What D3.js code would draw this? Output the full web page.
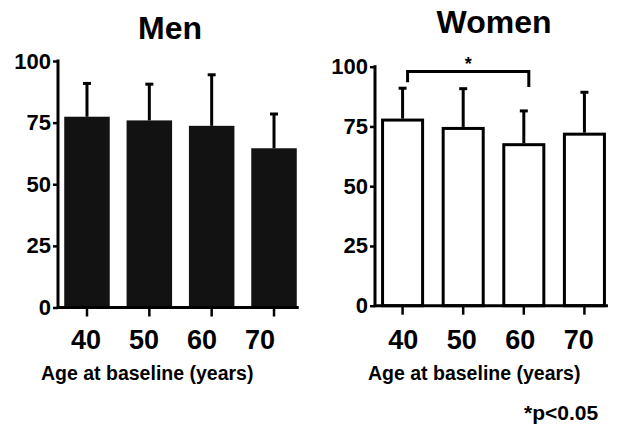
<!DOCTYPE html>
<html><head><meta charset="utf-8">
<script src="https://cdn.jsdelivr.net/npm/d3@7"></script>
<style>
html,body{margin:0;padding:0;background:#fff;}
svg{display:block;}
text{font-family:"Liberation Sans",Arial,sans-serif;font-weight:bold;fill:#000;}
</style></head>
<body>
<svg id="chart" width="627" height="429"></svg>
<script>
const categories = ["40", "50", "60", "70"];
const yTicks = [0, 25, 50, 75, 100];
const menMeans = [77.4, 75.9, 73.7, 64.6];
const menSDs = [13.5, 14.7, 20.7, 13.9];
const womenMeans = [78.3, 74.8, 68.0, 72.4];
const womenSDs = [12.7, 16.0, 13.5, 16.9];
const sigPair = ["40", "60"];
const sigLabel = "*";
const footnote = "*p<0.05";
const xTitle = "Age at baseline (years)";

const svg = d3.select("#chart");

function panel(opt) {
  const g = svg.append("g");
  const x = d3.scaleBand().domain(categories).range(opt.xr).paddingInner(opt.pi).paddingOuter(0.1);
  const y = d3.scaleLinear().domain([0, 100]).range(opt.yr);
  const lx = d3.scaleBand().domain(categories).range(opt.lr);
  const data = categories.map((c, i) => ({c, m: opt.means[i], sd: opt.sds[i]}));
  const axisEnd = x(categories[3]) + x.bandwidth();

  // bars
  g.selectAll("rect.bar").data(data).join("rect")
    .attr("class", "bar")
    .attr("x", d => x(d.c) + (opt.filled ? 0 : 1.5))
    .attr("width", x.bandwidth() - (opt.filled ? 0 : 3))
    .attr("y", d => y(d.m) + (opt.filled ? 0 : 1.5))
    .attr("height", d => y(0) - y(d.m) - (opt.filled ? 0 : 1.5))
    .attr("fill", opt.filled ? "#121212" : "#fff")
    .attr("stroke", opt.filled ? "none" : "#000")
    .attr("stroke-width", 3);

  // error bars (upper)
  const eb = g.selectAll("g.err").data(data).join("g").attr("class", "err");
  eb.append("line")
    .attr("x1", d => x(d.c) + x.bandwidth() / 2).attr("x2", d => x(d.c) + x.bandwidth() / 2)
    .attr("y1", d => y(d.m)).attr("y2", d => y(d.m + d.sd))
    .attr("stroke", "#000").attr("stroke-width", 3);
  eb.append("line")
    .attr("x1", d => x(d.c) + x.bandwidth() / 2 - 4).attr("x2", d => x(d.c) + x.bandwidth() / 2 + 4)
    .attr("y1", d => y(d.m + d.sd)).attr("y2", d => y(d.m + d.sd))
    .attr("stroke", "#000").attr("stroke-width", 3);

  // y axis
  const ya = g.append("g").attr("transform", `translate(${opt.xr[0]},0)`)
    .call(d3.axisLeft(y).tickValues(yTicks).tickSize(5).tickPadding(2).tickFormat(d3.format("d")));
  ya.select(".domain").remove();
  ya.selectAll(".tick line").attr("stroke", "#000").attr("stroke-width", 2.5);
  ya.selectAll(".tick text").style("font-size", "22px").attr("fill", "#000").style("font-family", "'Liberation Sans',Arial,sans-serif");
  g.append("line").attr("x1", opt.xr[0]).attr("x2", opt.xr[0])
    .attr("y1", y(100) - 1.5).attr("y2", y(0) + 1.5).attr("stroke", "#000").attr("stroke-width", 3);

  // x axis
  g.append("line").attr("x1", opt.xr[0]).attr("x2", axisEnd + 2)
    .attr("y1", y(0)).attr("y2", y(0)).attr("stroke", "#000").attr("stroke-width", 3);
  const xa = g.append("g").attr("transform", `translate(0,${y(0)})`)
    .call(d3.axisBottom(x).tickSize(9).tickFormat(""));
  xa.select(".domain").remove();
  xa.selectAll(".tick line").attr("stroke", "#000").attr("stroke-width", 2.5);

  // category labels
  g.selectAll("text.cat").data(categories).join("text")
    .attr("class", "cat")
    .attr("x", d => lx(d) + lx.bandwidth() / 2)
    .attr("y", 349)
    .attr("text-anchor", "middle")
    .style("font-size", "27px")
    .text(d => d);

  // x title
  g.append("text").attr("x", opt.titleX).attr("y", 380)
    .style("font-size", "19.5px").text(xTitle);

  // panel title
  g.append("text").attr("x", opt.headX).attr("y", opt.headY)
    .attr("text-anchor", "middle").style("font-size", "32px").text(opt.head);

  return {g, x, y};
}

panel({head: "Men", headX: 170, headY: 39, xr: [58, 303], pi: 0.27, yr: [307.5, 61],
  lr: [57, 289], means: menMeans, sds: menSDs, filled: true, titleX: 41});

const w = panel({head: "Women", headX: 494, headY: 33, xr: [375, 612], pi: 0.29, yr: [305.7, 66.7],
  lr: [374, 608], means: womenMeans, sds: womenSDs, filled: false, titleX: 368});

// significance bracket
const cx = c => w.x(c) + w.x.bandwidth() / 2;
const bx1 = cx(sigPair[0]) + 5, bx2 = cx(sigPair[1]) + 5;
const by = w.y(98);
w.g.append("path")
  .attr("d", `M${bx1},${w.y(93.5)} V${by} H${bx2} V${w.y(91.5)}`)
  .attr("fill", "none").attr("stroke", "#000").attr("stroke-width", 3);
w.g.append("text").attr("x", (bx1 + bx2) / 2).attr("y", by - 1)
  .attr("text-anchor", "middle").style("font-size", "18px").text(sigLabel);

svg.append("text").attr("x", 524).attr("y", 420).style("font-size", "21px").text(footnote);
</script>
</body></html>
